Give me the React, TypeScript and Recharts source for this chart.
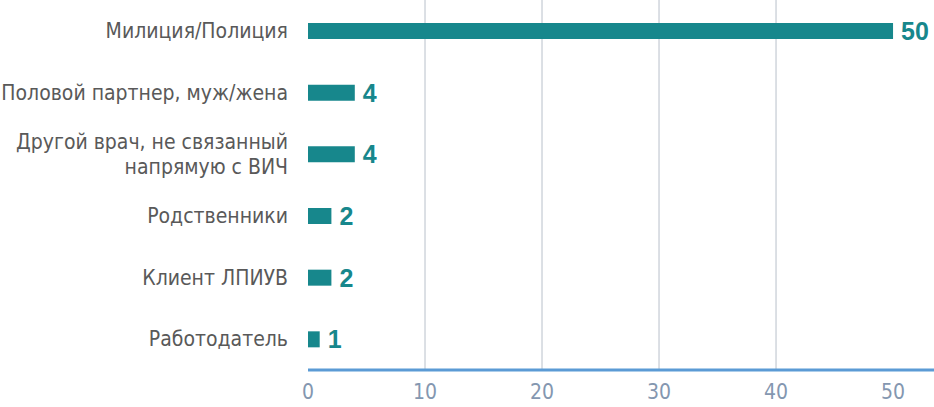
import React from 'react';
import { BarChart, Bar, XAxis, YAxis, CartesianGrid, LabelList } from 'recharts';

const categories = [
  'Милиция/Полиция',
  'Половой партнер, муж/жена',
  'Другой врач, не связанный\nнапрямую с ВИЧ',
  'Родственники',
  'Клиент ЛПИУВ',
  'Работодатель',
];
const values = [50, 4, 4, 2, 2, 1];
const xTicks = [0, 10, 20, 30, 40, 50];
const gridValues = [10, 20, 30, 40];

const data = categories.map((name, i) => ({ name, value: values[i] }));

const BAR = '#17878c';
const NARROW = "'DejaVu Sans Condensed', 'DejaVu Sans', sans-serif";

const CategoryTick = (props: any) => {
  const { x, y, payload } = props;
  const lines: string[] = String(payload.value).split('\n');
  const lh = 25;
  const start = -((lines.length - 1) * lh) / 2;
  return (
    <text
      x={x - 12}
      y={y}
      textAnchor="end"
      fill="#595959"
      fontSize={21}
      fontFamily={NARROW}
      style={{ fontStretch: 'condensed' }}
    >
      {lines.map((l, i) => (
        <tspan key={i} x={x - 12} dy={i === 0 ? start + 7 : lh}>
          {l}
        </tspan>
      ))}
    </text>
  );
};

export default function App() {
  return (
    <div style={{ width: 934, height: 407 }}>
      <style>{`body{margin:0}`}</style>
      <BarChart
        width={934}
        height={407}
        data={data}
        layout="vertical"
        margin={{ top: 0, right: 0, bottom: 0, left: 0 }}
      >
        <CartesianGrid
          horizontal={false}
          verticalValues={gridValues}
          stroke="#d0d5dc"
          strokeWidth={1.5}
        />
        <XAxis
          type="number"
          domain={[0, 53.5]}
          ticks={xTicks}
          height={37}
          axisLine={{ stroke: '#5b9bd5', strokeWidth: 3 }}
          tickLine={false}
          tick={{ fill: '#8497b0', fontSize: 21, fontFamily: NARROW, style: { fontStretch: 'condensed' } }}
          tickMargin={8}
          allowDataOverflow
        />
        <YAxis
          type="category"
          dataKey="name"
          width={308}
          axisLine={false}
          tickLine={false}
          tick={<CategoryTick />}
          interval={0}
        />
        <Bar dataKey="value" fill={BAR} barSize={16} isAnimationActive={false}>
          <LabelList
            dataKey="value"
            position="right"
            offset={8}
            fill={BAR}
            fontSize={25}
            fontWeight="bold"
            fontFamily="'Liberation Sans', Arial, sans-serif"
          />
        </Bar>
      </BarChart>
    </div>
  );
}
